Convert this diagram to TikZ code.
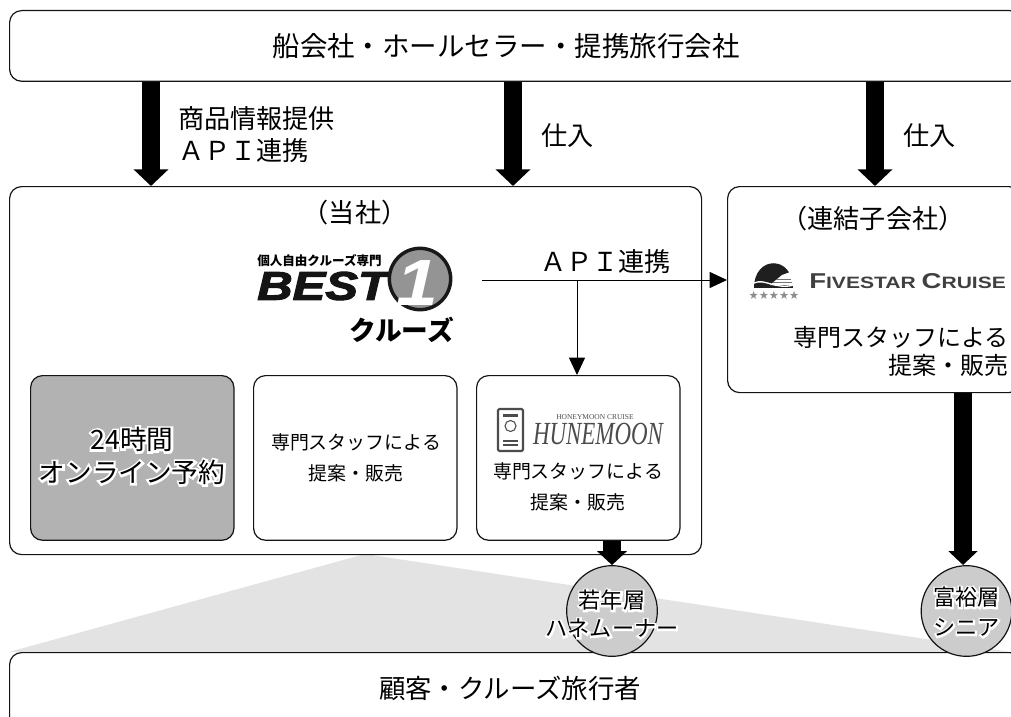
\documentclass[tikz,border=0pt]{standalone}
\usepackage{fontspec}
\usetikzlibrary{arrows.meta,shapes.geometric,calc}
\setmainfont{Noto Sans CJK JP}
\newfontfamily\halofont[FakeBold=16]{Noto Sans CJK JP}
\newfontfamily\latinb{Liberation Sans}
\newfontfamily\bestf[FakeBold=2.5]{Liberation Sans}
\newfontfamily\serifl{Liberation Serif}
\newfontfamily\starf{DejaVu Sans}
\newcommand{\hl}[1]{\leavevmode\rlap{\halofont\color{white}#1}#1}
\definecolor{boxline}{gray}{0.08}
\tikzset{
  x=0.75pt,y=-0.75pt,
  rbox/.style={draw=boxline,line width=0.9pt,rounded corners=9pt,fill=white,inner sep=0pt,anchor=north west},
  grayfill/.style={fill=black!30},
  fat/.style={line width=13.8pt,-{Triangle[length=12.5pt,width=25.5pt]},black},
  fatsm/.style={line width=13pt,-{Triangle[length=10.5pt,width=22pt]},black},
  thin/.style={line width=0.75pt,-{Triangle[length=13pt,width=12pt]},black},
  lbl/.style={font=\fontsize{19.6pt}{24pt}\selectfont,inner sep=0pt,align=left},
  big/.style={font=\fontsize{20.6pt}{26pt}\selectfont,inner sep=0pt,align=center},
  mid/.style={font=\fontsize{14.2pt}{23pt}\selectfont,inner sep=0pt,align=center},
  halo/.style={font=\fontsize{20pt}{24.7pt}\selectfont,inner sep=0pt,align=center},
  halosm/.style={font=\fontsize{16.6pt}{22.5pt}\selectfont,inner sep=0pt,align=center},
  ell/.style={draw=boxline,line width=0.9pt,ellipse,fill=black!20,inner sep=0pt,minimum width=68pt,minimum height=68pt}
}
\begin{document}
\begin{tikzpicture}
\useasboundingbox (0,0) rectangle (1011,717);
% customer fan
\fill[black!11] (365,554) -- (9,652) -- (1011,652) -- cycle;
% boxes
\node[rbox,minimum width=759pt,minimum height=53pt] (top) at (9,10) {};
\node[big] (toplabel) at (506,46) {船会社・ホールセラー・提携旅行会社};
\node[rbox,minimum width=519pt,minimum height=276pt] (main) at (9,186) {};
\node[rbox,minimum width=220pt,minimum height=154.5pt] (sub) at (727,186) {};
\node[rbox,minimum width=759pt,minimum height=60pt] (cust) at (9,652) {};
\node[big,font=\fontsize{19.8pt}{24pt}\selectfont] (custlabel) at (510,688) {顧客・クルーズ旅行者};
% inner boxes
\node[rbox,grayfill,minimum width=152.5pt,minimum height=123.5pt] (online) at (30,375) {};
\node[rbox,minimum width=152.5pt,minimum height=123.5pt] (staff) at (253,375) {};
\node[rbox,minimum width=152.5pt,minimum height=123.5pt] (hune) at (476,375) {};
% titles
\node[lbl,align=center] (own) at (355,213) {（当社）};
\node[lbl,align=center] (subt) at (873,219) {（連結子会社）};
\node[halo] (onlinet) at (132,456) {\hl{24時間}\\\hl{オンライン予約}};
\node[mid] (staffl) at (356,458) {専門スタッフによる\\提案・販売};
\node[mid] (hunel) at (578,487) {専門スタッフによる\\提案・販売};
\node[font=\fontsize{18pt}{21pt}\selectfont,inner sep=0pt,align=right,anchor=north east] (subl) at (1009,326) {専門スタッフによる\\提案・販売};
% labels
\node[lbl,anchor=west] (l1) at (178,135) {商品情報提供\\ＡＰＩ連携};
\node[lbl,anchor=west] (l2) at (541,136) {仕入};
\node[lbl,anchor=west] (l3) at (903,136) {仕入};
\node[lbl,anchor=west] (l4) at (540,262) {ＡＰＩ連携};
% arrows
\coordinate (a1) at (151,186);
\coordinate (a2) at (513,186);
\coordinate (a3) at (875,186);
\draw[fat] (top.south -| a1) -- (a1);
\draw[fat] (top.south -| a2) -- (a2);
\draw[fat] (top.south -| a3) -- (a3);
% connectors from the logo
\coordinate (apijoin) at (482,280);
\coordinate (below) at (577,375);
\draw[thin] (apijoin) -- (sub.west |- apijoin);
\draw[thin] (apijoin -| below) -- (below);
% BEST logo
\node[font=\bestf\bfseries\itshape\fontsize{29pt}{30pt}\selectfont,inner sep=0pt,anchor=west,text=black!92] (best) at (257,286) {\resizebox{98pt}{21pt}{BEST}};
\node[font=\bfseries\fontsize{9.4pt}{10pt}\selectfont,inner sep=0pt,anchor=west] (bestt) at (257,261) {個人自由クルーズ専門};
\node[circle,draw=black!90,line width=2.6pt,fill=black!42,minimum size=46pt,inner sep=0pt] (onec) at (420,279) {};
\node[font=\latinb\bfseries\itshape\fontsize{49pt}{49pt}\selectfont,text=white,inner sep=0pt] (one) at (417,283) {\scalebox{1.15}[1]{1}};
\node[font=\bfseries\itshape\fontsize{20pt}{20pt}\selectfont,inner sep=0pt,anchor=west] (kr) at (349,330) {クルーズ};
% fivestar logo
\fill[black!88] (754,288) .. controls (754,255) and (793,255) .. (793,288) -- cycle;
\fill[white] (770,285) -- (782,275) -- (793,271) -- (794,285) -- cycle;
\fill[black!55] (776,279) rectangle (791,280);
\fill[black!55] (773,282) rectangle (792,283);
\draw[white,line width=1pt] (754,283) .. controls (765,278) and (775,290) .. (794,285);
\node[font=\starf\fontsize{8.5pt}{9pt}\selectfont,text=black!45,inner sep=0pt] (stars) at (774,295) {★★★★★};
\node[font=\latinb\bfseries\fontsize{15.7pt}{16pt}\selectfont,text=black!75,inner sep=0pt,anchor=west] (five) at (809,281) {\resizebox{147.5pt}{11.25pt}{F\fontsize{12pt}{15pt}\selectfont IVESTAR \fontsize{15.7pt}{16pt}\selectfont C\fontsize{12pt}{15pt}\selectfont RUISE}};
% hunemoon logo
\draw[black!70,line width=1.6pt,rounded corners=1pt] (498,409) rectangle (523,451);
\fill[black!70] (503,414) rectangle (518,417);
\draw[black!70,line width=0.8pt] (510.5,426) circle (5.5);
\fill[black!70] (503,440) rectangle (518,441.5);
\fill[black!70] (503,444) rectangle (518,445.5);
\node[font=\serifl\fontsize{5.6pt}{7pt}\selectfont,text=black!70,inner sep=0pt] (hc) at (595,417) {HONEYMOON CRUISE};
\node[font=\serifl\itshape\fontsize{22pt}{22pt}\selectfont,text=black!70,inner sep=0pt] (hm) at (598,434) {\resizebox{97.5pt}{16pt}{HUNEMOON}};
% lower arrows and ellipses
\node[ell] (young) at (612,611) {};
\node[ell] (rich) at (966.5,611) {};
\node[halosm,font=\fontsize{16.6pt}{21pt}\selectfont] (youngt) at (612,614) {\hl{若年層}\\\hl{ハネムーナー}};
\node[halosm] (richt) at (966.5,612) {\hl{富裕層}\\\hl{シニア}};
\coordinate (richtop) at (963,565);
\draw[fatsm] (hune.south -| young) -- (young.north);
\draw[fat,-{Triangle[length=10.5pt,width=21.5pt]}] (sub.south -| richtop) -- (richtop);
\end{tikzpicture}
\end{document}
